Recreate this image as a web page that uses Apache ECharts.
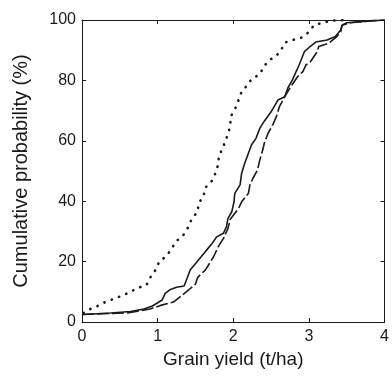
<!DOCTYPE html>
<html>
<head>
<meta charset="utf-8">
<script src="https://cdn.jsdelivr.net/npm/echarts@6/dist/echarts.min.js"></script>
<style>
html,body{margin:0;padding:0;background:#fff;}
#c{width:392px;height:379px;}
</style>
</head>
<body>
<div id="c"></div>
<script>
var xTicks = [0, 1, 2, 3, 4];
var yTicks = [0, 20, 40, 60, 80, 100];

var dottedX = [0.02,0.08,0.19,0.30,0.41,0.53,0.64,0.75,0.85,0.91,0.98,1.02,1.10,1.17,1.24,1.34,1.41,1.45,1.53,1.54,1.61,1.62,1.72,1.77,1.80,1.81,1.86,1.90,1.94,1.96,1.97,2.03,2.07,2.11,2.19,2.24,2.35,2.41,2.48,2.57,2.64,2.68,2.77,2.89,2.98,3.07,3.18,3.3,3.5];
var dottedY = [3,4.0,5.1,6.5,7.6,8.7,10.0,11.4,12.1,15,17.5,20,21.5,23.6,26.6,28.8,31.6,34.1,36.6,39.3,41.7,44.2,46.8,49.6,52.2,55,57.5,60.3,62.8,65.5,68.2,70.9,73.5,76.3,78.5,80.4,82,84.8,86.8,88.1,90.4,92.5,93.3,94,95.6,98.3,99.1,99.8,100];

var solidX = [0,0.38,0.64,0.82,0.93,0.99,1.06,1.10,1.17,1.25,1.35,1.39,1.43,1.54,1.63,1.72,1.78,1.87,1.91,1.93,1.98,2.01,2.02,2.09,2.11,2.15,2.20,2.24,2.30,2.35,2.41,2.50,2.59,2.68,2.72,2.78,2.87,2.94,3.02,3.09,3.24,3.35,3.42,3.44,3.50,3.81,4.0];
var solidY = [2.5,3.0,3.5,4.3,5.3,6.2,7.3,9.5,10.8,11.5,11.9,14.5,17.2,20.5,23.3,26,28.2,29.4,31.6,34.3,36.5,39.8,42.6,45.4,49.2,52.5,55.9,58.6,60.8,64.1,66.5,69.6,73.5,74.6,77.4,80.1,85.1,89.5,91.3,92.7,93.4,94.5,96.7,98.3,99.1,99.7,100];

var dashedX = [0,0.6,0.9,1.04,1.21,1.30,1.41,1.50,1.53,1.63,1.70,1.74,1.80,1.87,1.93,1.96,2.07,2.11,2.20,2.22,2.26,2.32,2.35,2.39,2.41,2.46,2.52,2.57,2.61,2.68,2.76,2.85,2.92,2.96,3.02,3.11,3.13,3.26,3.37,3.42,3.44,3.55,3.8,4.0];
var dashedY = [2.5,3.0,4.3,5.5,6.6,8.4,10.6,12.5,14.8,17.2,20,21.6,24.9,27.7,31,34,37.6,39.8,42.6,45.4,47.6,50.3,53.6,57,59.2,62.5,65.2,68,71.3,74.6,77.9,81.2,82.9,85.1,86.2,89.5,91.2,92.3,94.5,96.1,98.3,99.1,99.7,100];

function zip(xs, ys){ return xs.map(function(x,i){ return [x, ys[i]]; }); }

var ink = '#1a1a1a';
var font = 'Liberation Sans, Arial, sans-serif';

var chart = echarts.init(document.getElementById('c'), null, {renderer:'canvas'});
chart.setOption({
  animation:false,
  backgroundColor:'#fff',
  grid:{left:82, right:4, top:20, bottom:57, containLabel:false},
  xAxis:[{
    type:'value', min:xTicks[0], max:xTicks[xTicks.length-1], interval:1,
    name:'Grain yield (t/ha)', nameLocation:'middle', nameGap:27,
    nameTextStyle:{color:ink, fontSize:19, fontFamily:font},
    axisLine:{show:true, lineStyle:{color:ink, width:1}},
    axisTick:{show:true, inside:true, length:4, lineStyle:{color:ink}},
    axisLabel:{color:ink, fontSize:16, fontFamily:font, margin:7},
    splitLine:{show:false}
  },{
    type:'value', position:'top', min:0, max:4, interval:1,
    axisLine:{show:true, onZero:false, lineStyle:{color:ink, width:1}},
    axisTick:{show:true, inside:true, length:4, lineStyle:{color:ink}},
    axisLabel:{show:false}, splitLine:{show:false}
  }],
  yAxis:[{
    type:'value', min:yTicks[0], max:yTicks[yTicks.length-1], interval:20,
    name:'Cumulative probability (%)', nameLocation:'middle', nameGap:51,
    nameTextStyle:{color:ink, fontSize:20, fontFamily:font},
    axisLine:{show:true, lineStyle:{color:ink, width:1}},
    axisTick:{show:true, inside:true, length:4, lineStyle:{color:ink}},
    axisLabel:{color:ink, fontSize:16, fontFamily:font, margin:6},
    splitLine:{show:false}
  },{
    type:'value', position:'right', min:0, max:100, interval:20,
    axisLine:{show:true, onZero:false, lineStyle:{color:ink, width:1}},
    axisTick:{show:true, inside:true, length:4, lineStyle:{color:ink}},
    axisLabel:{show:false}, splitLine:{show:false}
  }],
  series:[
    {type:'line', data:zip(dottedX, dottedY), showSymbol:false, smooth:false,
     lineStyle:{color:ink, width:2.6, type:[0.3,7.5], cap:'round'}},
    {type:'line', data:zip(solidX, solidY), showSymbol:false, smooth:false,
     lineStyle:{color:ink, width:1.6, type:'solid'}},
    {type:'line', data:zip(dashedX, dashedY), showSymbol:false, smooth:false,
     lineStyle:{color:ink, width:1.6, type:[12,3]}}
  ]
});
</script>
</body>
</html>
